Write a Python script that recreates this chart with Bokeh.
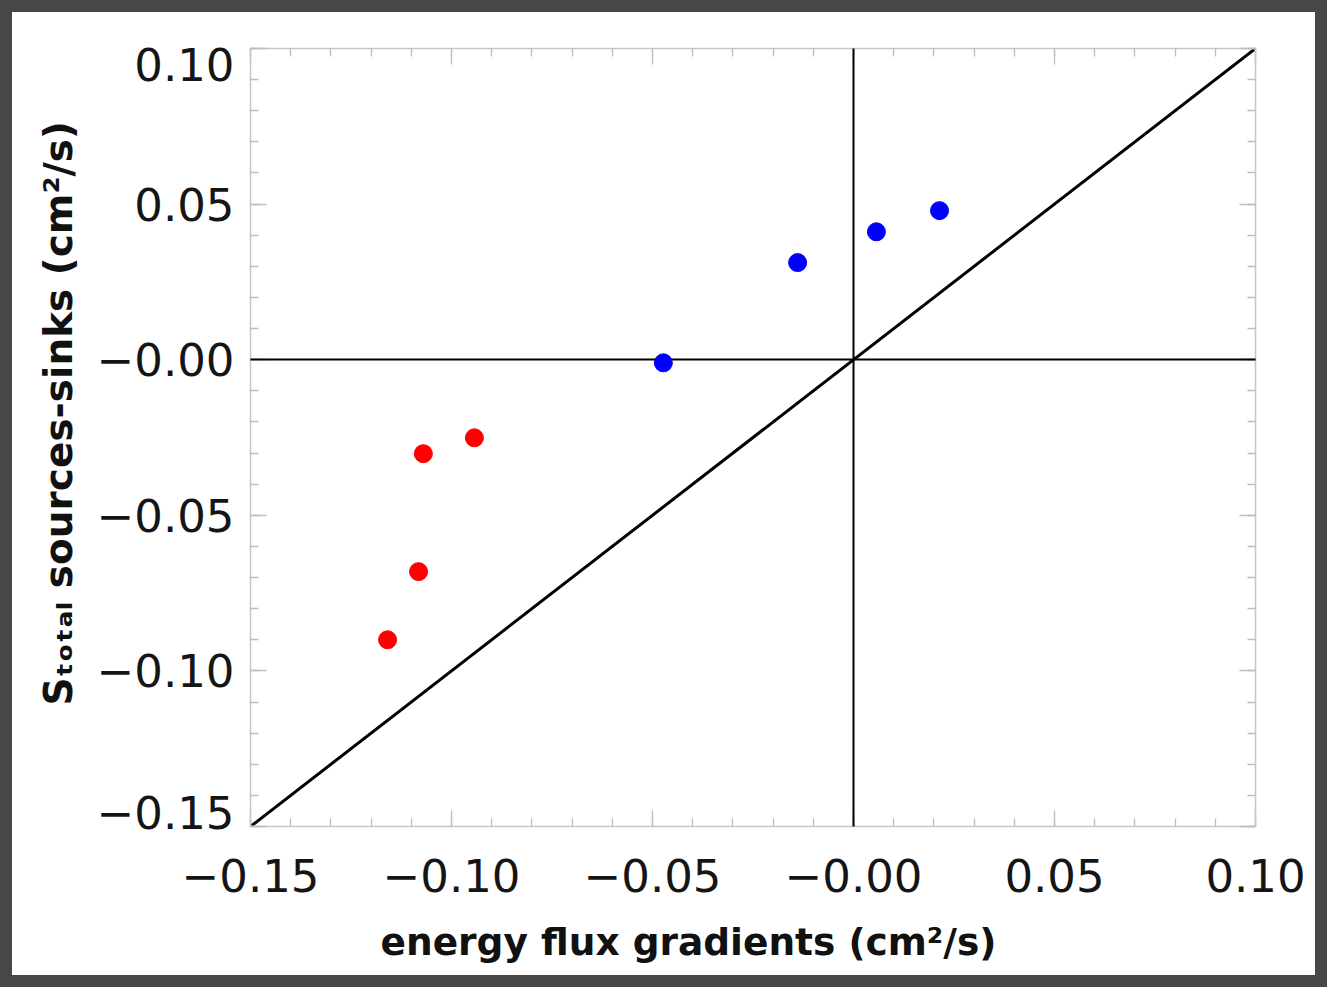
import numpy as np
from bokeh.plotting import figure
from bokeh.models import FixedTicker, LinearAxis, Slope, Range1d, Title
from bokeh.embed import file_html
from bokeh.resources import INLINE

# ---- data ----
red_x = [-0.1159, -0.1082, -0.1070, -0.0943]
red_y = [-0.0900, -0.0681, -0.0302, -0.0251]
blue_x = [-0.0473, -0.0139, 0.0057, 0.0214]
blue_y = [-0.0010, 0.0312, 0.0411, 0.0479]

tick_values = [-0.15, -0.10, -0.05, 0.0, 0.05, 0.10]
tick_labels = ["\u22120.15", "\u22120.10", "\u22120.05", "\u22120.00", "0.05", "0.10"]
# the y labels at the two ends sit inside the frame in the original
y_label_positions = [-0.1455, -0.10, -0.05, 0.0, 0.05, 0.0948]
minor_values = [round(v, 2) for v in np.arange(-0.15, 0.1001, 0.01)]

x_title = "energy flux gradients (cm\u00b2/s)"
y_title = "S\u209c\u2092\u209c\u2090\u2097 sources-sinks (cm\u00b2/s)"

# ---- figure ----
p = figure(width=1303, height=963, output_backend="svg", toolbar_location=None,
           x_range=Range1d(-0.15, 0.10), y_range=Range1d(-0.15, 0.10),
           x_axis_location=None, y_axis_location=None,
           min_border_left=238, min_border_right=84, min_border_top=36, min_border_bottom=173,
           background_fill_color="white", border_fill_color="white",
           styles={"border": "12px solid #474747", "box-sizing": "content-box"})
p.xgrid.visible = False
p.ygrid.visible = False
p.outline_line_color = None

TICK_FONT = "DejaVu Sans"
TITLE_FONT = "DejaVu Sans"
FRAME_COLOR = "#c6c6c6"
TICK_COLOR = "#bdbdbd"


def tick_axis(side, positions, length, with_line):
    """axis that only draws tick marks (no labels)"""
    ax = LinearAxis(ticker=FixedTicker(ticks=[], minor_ticks=positions))
    ax.axis_line_color = FRAME_COLOR if with_line else None
    ax.axis_line_width = 1.5
    ax.minor_tick_line_color = TICK_COLOR
    ax.minor_tick_line_width = 1.3
    ax.minor_tick_in = length
    ax.minor_tick_out = 0
    ax.major_tick_in = 0
    ax.major_tick_out = 0
    ax.major_label_standoff = 0
    p.add_layout(ax, side)
    return ax


# bottom axis: ticks and labels
xb = LinearAxis(ticker=FixedTicker(ticks=tick_values, minor_ticks=minor_values))
xb.axis_line_color = FRAME_COLOR
xb.axis_line_width = 1.5
xb.major_tick_line_color = TICK_COLOR
xb.major_tick_line_width = 1.3
xb.minor_tick_line_color = TICK_COLOR
xb.minor_tick_line_width = 1.3
xb.major_tick_in = 16
xb.major_tick_out = 0
xb.minor_tick_in = 8
xb.minor_tick_out = 0
xb.major_label_standoff = 32
xb.major_label_text_font = TICK_FONT
xb.major_label_text_font_size = "45px"
xb.major_label_text_color = "#151515"
xb.major_label_overrides = {v: t for v, t in zip(tick_values, tick_labels)}
p.add_layout(xb, "below")

# left side: tick marks at the frame, then the labels
tick_axis("left", minor_values, 8, True)
tick_axis("left", tick_values, 16, False)
yl = LinearAxis(ticker=FixedTicker(ticks=y_label_positions, minor_ticks=[]))
yl.axis_line_color = None
yl.major_tick_line_color = None
yl.major_tick_in = 0
yl.major_tick_out = 0
yl.major_label_standoff = 16
yl.major_label_text_font = TICK_FONT
yl.major_label_text_font_size = "45px"
yl.major_label_text_color = "#151515"
yl.major_label_overrides = {v: t for v, t in zip(y_label_positions, tick_labels)}
p.add_layout(yl, "left")

# top and right: tick marks only
tick_axis("above", minor_values, 8, True)
tick_axis("above", tick_values, 16, False)
tick_axis("right", minor_values, 8, True)
tick_axis("right", tick_values, 16, False)

# axis titles
p.add_layout(Title(text=y_title, align="left", offset=121, vertical_align="bottom", standoff=26,
                   text_font=TITLE_FONT, text_font_size="39px", text_font_style="bold",
                   text_color="#111111"), "left")
p.add_layout(Title(text=x_title, align="left", offset=130, vertical_align="bottom", standoff=46,
                   text_font=TITLE_FONT, text_font_size="37.5px", text_font_style="bold",
                   text_color="#111111"), "below")

# reference lines (drawn over the frame ticks)
p.add_layout(Slope(gradient=1, y_intercept=0, line_color="black", line_width=3, level="underlay"))
p.vspan(x=[0], line_color="black", line_width=2, level="overlay")
p.hspan(y=[0], line_color="black", line_width=2, level="overlay")

# points
p.scatter(red_x, red_y, size=18, color="#ff0000", level="overlay")
p.scatter(blue_x, blue_y, size=18, color="#0000ff", level="overlay")

open("out.html", "w").write(file_html(p, INLINE))
